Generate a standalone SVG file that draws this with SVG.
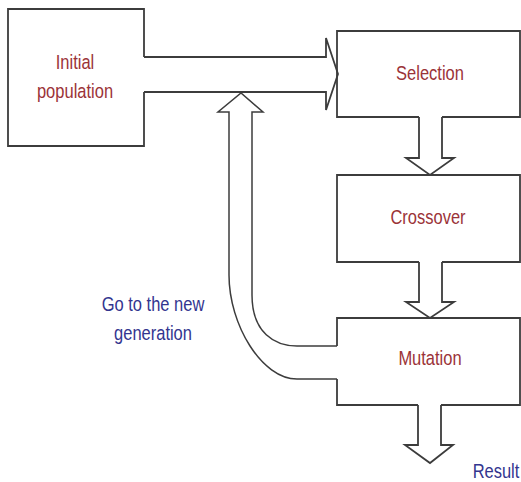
<svg xmlns="http://www.w3.org/2000/svg" width="521" height="482" viewBox="0 0 521 482">
<style>
.box{fill:none;stroke:#3c3c3c;stroke-width:1.8}
.arr{fill:none;stroke:#3c3c3c;stroke-width:1.8;stroke-linejoin:miter}
.fb{fill:none;stroke:#3c3c3c;stroke-width:1.5}
.t{font-family:"Liberation Sans",Arial,sans-serif;font-size:16.5px;text-anchor:middle}
.red{fill:#9b3338}
.blue{fill:#33358f}
</style>
<rect width="521" height="482" fill="#ffffff"/>
<g id="connectors">
<path class="arr" d="M144,57 H326 V38 L338,74 L326,110 V92 H144"/>
<path class="arr" d="M419,117 V158 H406 L430,175 L454,158 H442 V117"/>
<path class="arr" d="M419,262 V302 H406 L430,318 L454,302 H442 V262"/>
<path class="arr" d="M418,405 V445 H405 L430,463 L453,445 H441 V405"/>
<path class="fb" d="M337,379 H297 C262,379 229,325 229,275 V112 H218 L241,93 L263,112 H252 V295 C252,333 275,346 297,346 H337"/>
<text class="t blue" transform="translate(496,478) scale(1,1.28)">Result</text>
<text class="t blue" transform="translate(153,311) scale(1,1.28)">Go to the new</text>
<text class="t blue" transform="translate(153,340) scale(1,1.28)">generation</text>
</g>
<g id="initial-population">
<path class="box" d="M144,57 V9 H8 V146 H144 V92"/>
<text class="t red" transform="translate(75,69) scale(1,1.28)">Initial</text>
<text class="t red" transform="translate(75,98) scale(1,1.28)">population</text>
</g>
<g id="selection">
<path class="box" d="M419,117 H337 V31 H520 V117 H442"/>
<text class="t red" transform="translate(430,80) scale(1,1.28)">Selection</text>
</g>
<g id="crossover">
<path class="box" d="M419,262 H337 V175 H520 V262 H442"/>
<text class="t red" transform="translate(428,224) scale(1,1.28)">Crossover</text>
</g>
<g id="mutation">
<path class="box" d="M418,405 H337 V379 M337,346 V318 H520 V405 H441"/>
<text class="t red" transform="translate(430,365) scale(1,1.28)">Mutation</text>
</g>
</svg>
